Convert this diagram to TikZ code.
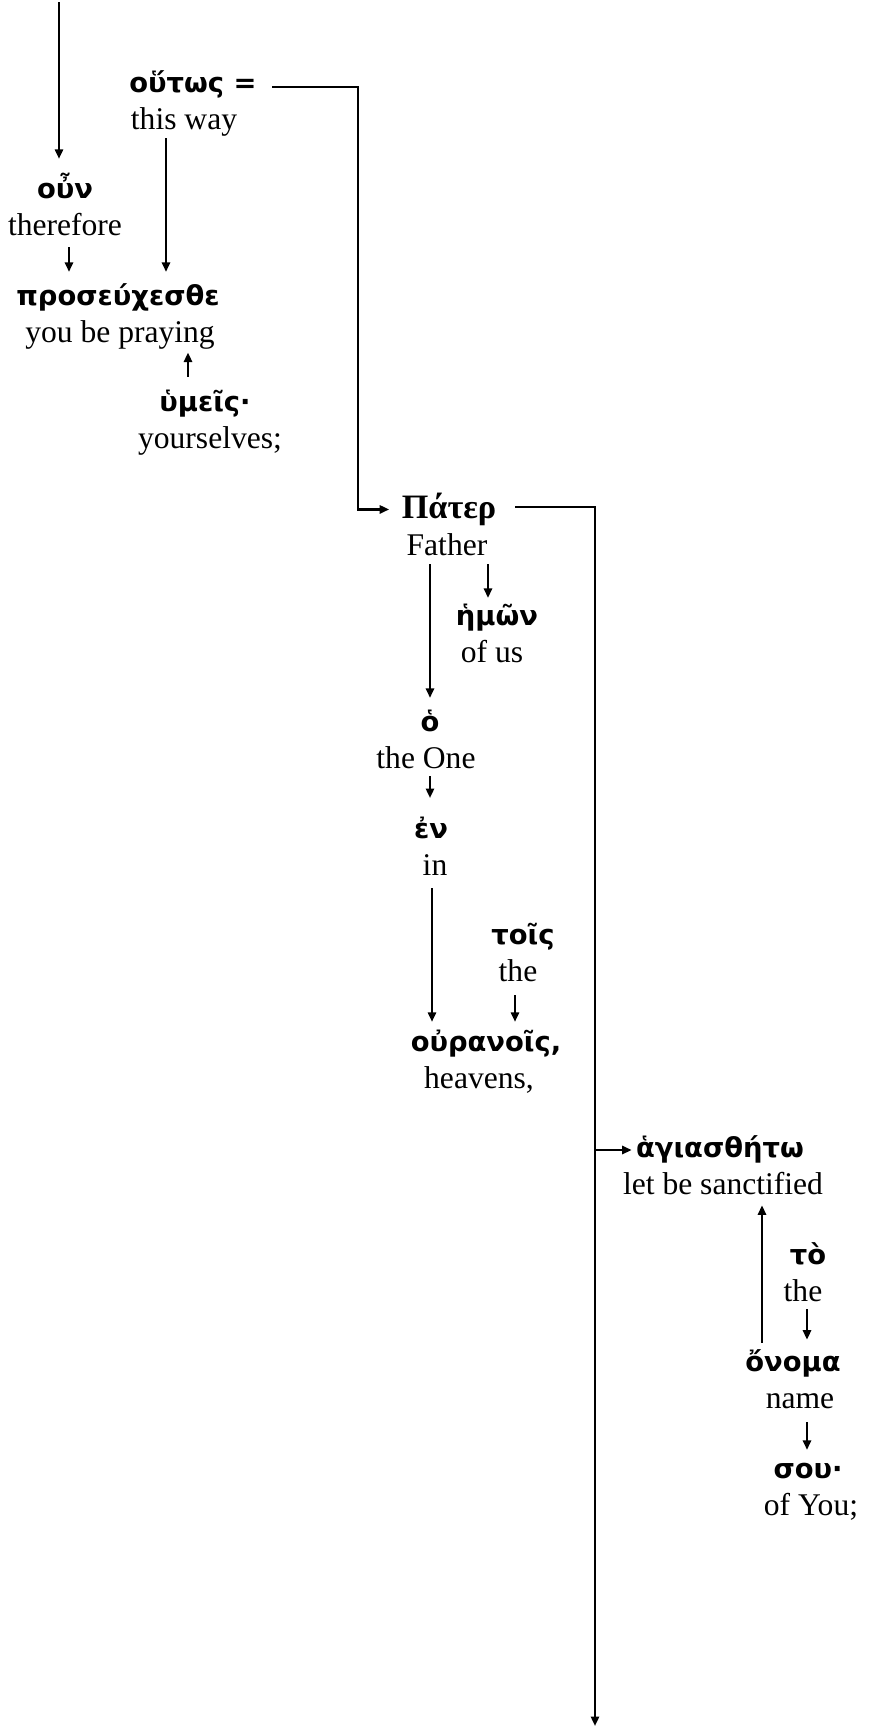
\documentclass[tikz,border=0pt]{standalone}
\usepackage{fontspec}
\setmainfont{Liberation Serif}
\newfontfamily\grkfont{DejaVu Sans}
\usetikzlibrary{arrows.meta,calc}
\tikzset{
  gk/.style={font=\grkfont\bfseries\fontsize{10.4}{12}\selectfont, inner sep=0pt, anchor=base, text height=9pt, text depth=2.5pt},
  gkp/.style={gk, font=\bfseries\fontsize{13}{14}\selectfont},
  eng/.style={font=\fontsize{12}{14}\selectfont, inner sep=0pt, anchor=base, text height=8pt, text depth=3pt},
  arr/.style={-{Triangle[length=3.6pt,width=3.1pt]}, line width=0.85pt},
}
\begin{document}
\begin{tikzpicture}[x=0.38pt,y=-0.38pt]
\useasboundingbox (0,0) rectangle (869,1727);
% words
\node[gk]  (outos)      at (193,92)   {οὕτως =};
\node[eng] (thisway)    at (184,129)  {this way};
\node[gk]  (oun)        at (65,198)   {οὖν};
\node[eng] (therefore)  at (65,235)   {therefore};
\node[gk]  (pros)       at (118,305)  {προσεύχεσθε};
\node[eng] (praying)    at (120,342)  {you be praying};
\node[gk]  (hum)        at (205,411)  {ὑμεῖς·};
\node[eng] (yourselves) at (210,448)  {yourselves;};
\node[gkp] (pater)      at (449,518)  {Πάτερ};
\node[eng] (father)     at (447,555)  {Father};
\node[gk]  (hemon)      at (497,625)  {ἡμῶν};
\node[eng] (ofus)       at (492,662)  {of us};
\node[gk]  (ho)         at (430,731)  {ὁ};
\node[eng] (theone)     at (426,768)  {the One};
\node[gk]  (enw)        at (431,838)  {ἐν};
\node[eng] (in)         at (435,875)  {in};
\node[gk]  (tois)       at (523,944)  {τοῖς};
\node[eng] (the1)       at (518,981)  {the};
\node[gk]  (ouranois)   at (486,1051) {οὐρανοῖς,};
\node[eng] (heavens)    at (479,1088) {heavens,};
\node[gk]  (hag)        at (720,1157) {ἁγιασθήτω};
\node[eng] (sanct)      at (723,1194) {let be sanctified};
\node[gk]  (to)         at (808,1264) {τὸ};
\node[eng] (the2)       at (803,1301) {the};
\node[gk]  (onoma)      at (793,1371) {ὄνομα};
\node[eng] (name)       at (800,1408) {name};
\node[gk]  (sou)        at (808,1478) {σου·};
\node[eng] (ofyou)      at (811,1515) {of You;};
% free ends
\coordinate (top) at (59,2);
\coordinate (outosR) at (272,87);
\coordinate (paterR) at (515,507);
\coordinate (branch) at (595,1150);
\coordinate (bot) at (595,1726);
% connectors
\draw[arr, shorten >=5.7pt] (top) -- (oun.north -| top);
\draw[arr, shorten <=1.5pt, shorten >=3.4pt] (therefore.south -| 69,0) -- (pros.north -| 69,0);
\draw[arr, shorten <=0.4pt, shorten >=3.4pt] (thisway.south -| 166,0) -- (pros.north -| 166,0);
\draw[arr, shorten <=3.8pt, shorten >=0.8pt] (hum.north -| 188,0) -- (praying.south -| 188,0);
\draw[arr, shorten >=4.6pt] (outosR) -- (358,87) |- (pater.west);
\draw[arr, shorten <=0.4pt, shorten >=3.4pt] (father.south -| 430,0) -- (ho.north -| 430,0);
\draw[arr, shorten <=0.4pt, shorten >=1.1pt] (father.south -| 488,0) -- (hemon.north -| 488,0);
\draw[arr, shorten >=6pt] (theone.south -| 430,0) -- (enw.north -| 430,0);
\draw[arr, shorten <=1.9pt, shorten >=1.9pt] (in.south -| 432,0) -- (ouranois.north -| 432,0);
\draw[arr, shorten <=2.3pt, shorten >=1.9pt] (the1.south -| 515,0) -- (ouranois.north -| 515,0);
\draw[arr] (paterR) -| (bot);
\draw[arr, shorten >=1.5pt] (branch) -- (hag.west |- branch);
\draw[arr, shorten <=1.5pt, shorten >=1.1pt] (onoma.north -| 762,0) -- (sanct.south -| 762,0);
\draw[arr, shorten >=2.7pt] (the2.south -| 807,0) -- (onoma.north -| 807,0);
\draw[arr, shorten <=2.3pt, shorten >=1.5pt] (name.south -| 807,0) -- (sou.north -| 807,0);
\end{tikzpicture}
\end{document}
